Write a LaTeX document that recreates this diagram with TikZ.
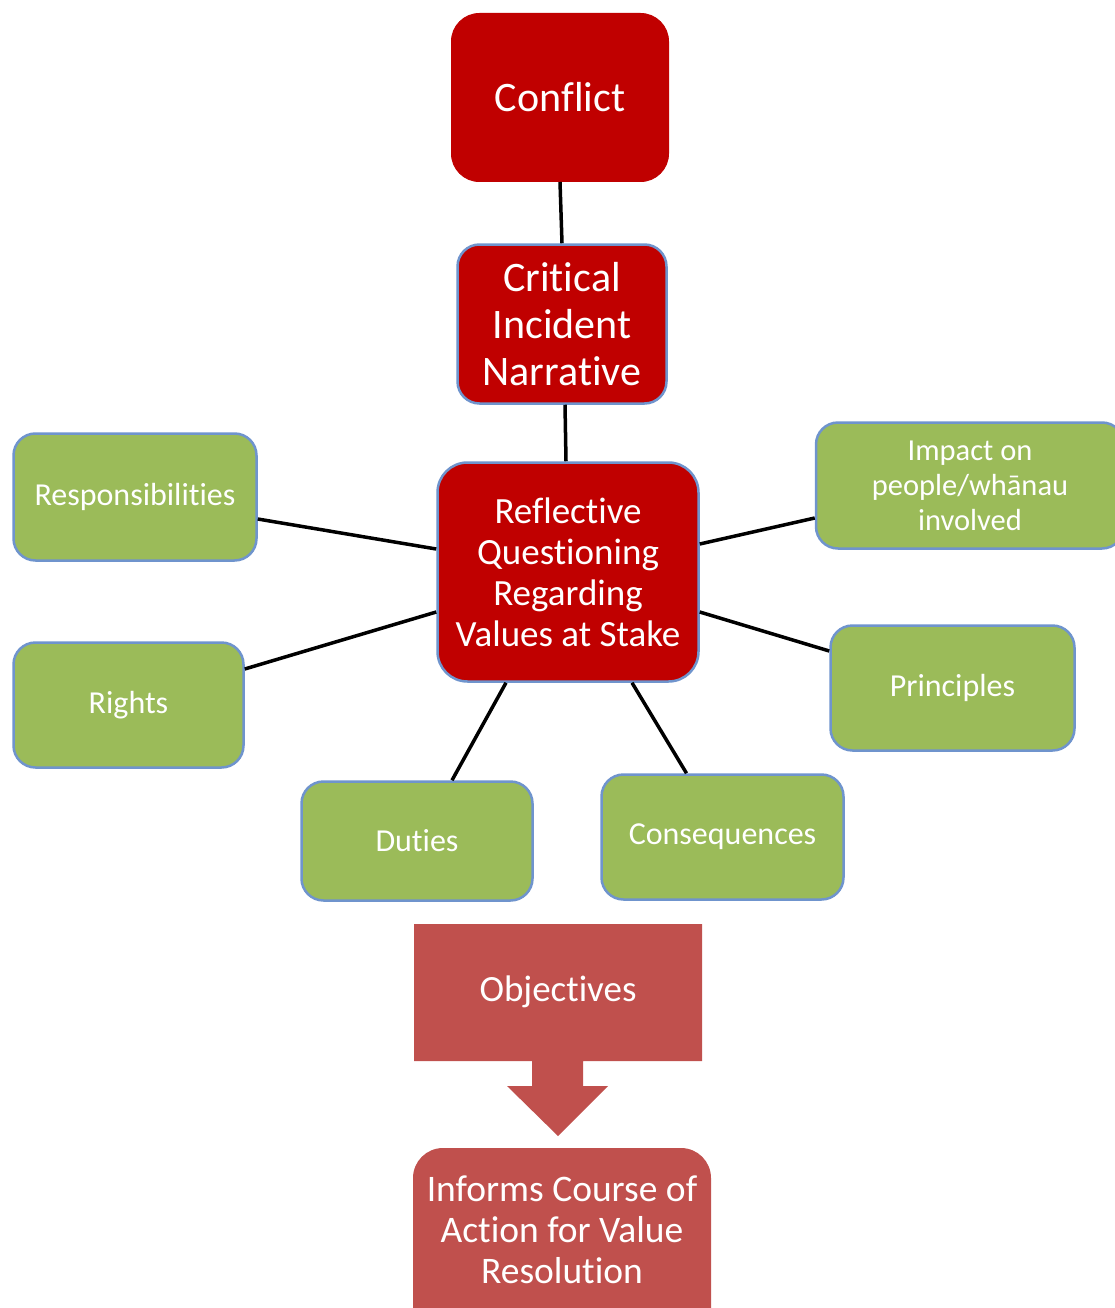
\documentclass[tikz,border=0pt]{standalone}
\usepackage{fontspec}
\setmainfont[Ligatures={NoCommon}]{Carlito}
\definecolor{darkred}{RGB}{192,0,0}
\definecolor{brick}{RGB}{192,80,77}
\definecolor{leaf}{RGB}{155,187,89}
\definecolor{edgeblue}{RGB}{111,148,205}
\begin{document}
\begin{tikzpicture}[x=1pt,y=-1pt,
  redbox/.style={fill=darkred,text=white,align=center,inner sep=0pt},
  greenbox/.style={fill=leaf,draw=edgeblue,line width=2.5pt,text=white,align=center,inner sep=0pt,rounded corners=22pt,font=\fontsize{32}{35}\selectfont},
  link/.style={draw=black,line width=3.5pt}]
\useasboundingbox (0,0) rectangle (1114,1308);

% top of the chain
\node[redbox,draw=darkred,line width=1pt,rounded corners=28pt,minimum width=217pt,minimum height=168pt,font=\fontsize{42}{47}\selectfont] (conf) at (560,97.5) {Conflict};
\node[redbox,draw=edgeblue,line width=2.5pt,rounded corners=22pt,minimum width=209pt,minimum height=159pt,font=\fontsize{42}{47}\selectfont] (crit) at (562,324) {Critical\\Incident\\Narrative};
\node[redbox,draw=edgeblue,line width=2.5pt,rounded corners=30pt,minimum width=261pt,minimum height=219pt,font=\fontsize{37}{41}\selectfont] (refl) at (568,572) {Reflective\\Questioning\\Regarding\\Values at Stake};

% surrounding values
\node[greenbox,minimum width=243pt,minimum height=127pt] (resp) at (135,497) {Responsibilities};
\node[greenbox,minimum width=230pt,minimum height=125pt] (rights) at (128.5,705) {Rights};
\node[greenbox,minimum width=231pt,minimum height=119pt] (duty) at (417,841) {Duties};
\node[greenbox,minimum width=242pt,minimum height=125pt] (cons) at (722.5,837) {Consequences};
\node[greenbox,minimum width=244pt,minimum height=125pt] (princ) at (952.5,688) {Principles};
\node[greenbox,minimum width=308pt,minimum height=126pt,font=\fontsize{30.5}{35}\selectfont] (imp) at (970,485.5) {Impact on\\people/whānau\\involved};

% connectors
\draw[link] (conf.south) -- (crit.north);
\draw[link] ([xshift=3pt]crit.south) -- ([xshift=-2pt]refl.north);
\draw[link] ([yshift=-22pt]resp.east) -- ([yshift=23pt]refl.west);
\draw[link] ([yshift=36pt]rights.east) -- ([yshift=-40pt]refl.west);
\draw[link] ([xshift=35pt]duty.north) -- ([xshift=-62pt]refl.south);
\draw[link] ([xshift=-36pt]cons.north) -- ([xshift=64pt]refl.south);
\draw[link] ([yshift=37pt]princ.west) -- ([yshift=-40pt]refl.east);
\draw[link] ([yshift=-32.5pt]imp.west) -- ([yshift=28pt]refl.east);

% objectives with its downward arrow
\fill[brick] (414,924) -- (702,924) -- (702,1061) -- (583,1061) -- (583,1086)
  -- (608,1086) -- (558,1136) -- (507,1086) -- (532,1086) -- (532,1061)
  -- (414,1061) -- cycle;
\node[text=white,font=\fontsize{37}{41}\selectfont] (obj) at (558,992) {Objectives};

% outcome box, running past the lower edge
\fill[brick,rounded corners=30pt] (413,1148) rectangle (711,1350);
\node[text=white,align=center,inner sep=0pt,font=\fontsize{37.5}{41}\selectfont] (inf) at (562,1230) {Informs Course of\\Action for Value\\Resolution};
\end{tikzpicture}
\end{document}
